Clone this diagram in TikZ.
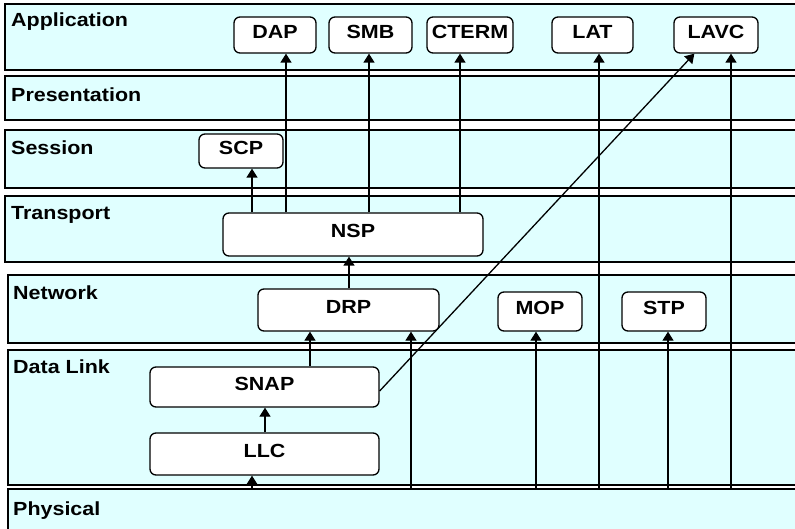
\documentclass[tikz,border=0pt]{standalone}
\usepackage{fontspec}
\newfontfamily\lblfont[FakeStretch=1.13]{Liberation Sans}
\usetikzlibrary{arrows.meta}
\definecolor{layerfill}{HTML}{E0FFFF}
\tikzset{
  layer/.style={fill=layerfill, draw=black, line width=2.2pt},
  layername/.style={anchor=base west, inner sep=0pt, font=\lblfont\bfseries\fontsize{19}{19}\selectfont},
  proto/.style={draw=black, fill=white, rounded corners=6pt, line width=1.3pt, inner sep=0pt,
    font=\lblfont\bfseries\fontsize{19}{19}\selectfont, text height=13.5pt, text depth=7pt},
  arr/.style={line width=1.3pt, -{Triangle[width=11pt,length=9pt]}},
}
\begin{document}
\begin{tikzpicture}[x=1pt,y=-1pt]
\useasboundingbox (0,0) rectangle (795,529);
\clip (0,0) rectangle (795,529);
% layers
\draw[layer] (5,4) rectangle (805,70);
\draw[layer] (5,76) rectangle (805,120);
\draw[layer] (5,130) rectangle (805,188);
\draw[layer] (5,196) rectangle (805,262);
\draw[layer] (8,275) rectangle (805,343);
\draw[layer] (8,350) rectangle (805,485);
\draw[layer] (8,489) rectangle (805,545);
\node[layername] (lapp) at (11,27) {Application};
\node[layername] (lpres) at (11,102) {Presentation};
\node[layername] (lsess) at (11,155) {Session};
\node[layername] (ltrans) at (11,220) {Transport};
\node[layername] (lnet) at (13,299) {Network};
\node[layername] (ldl) at (13,373) {Data Link};
\node[layername] (lphy) at (13,515) {Physical};
\coordinate (phy) at (400,489);
% protocol boxes
\node[proto, minimum width=82pt, minimum height=36pt] (DAP) at (275,35) {DAP};
\node[proto, minimum width=83pt, minimum height=36pt] (SMB) at (370.5,35) {SMB};
\node[proto, minimum width=86pt, minimum height=36pt] (CTERM) at (470,35) {CTERM};
\node[proto, minimum width=81pt, minimum height=36pt] (LAT) at (592.5,35) {LAT};
\node[proto, minimum width=84pt, minimum height=36pt] (LAVC) at (716,35) {LAVC};
\node[proto, minimum width=84pt, minimum height=34pt] (SCP) at (241,151) {SCP};
\node[proto, minimum width=260pt, minimum height=43pt] (NSP) at (353,234.5) {NSP};
\node[proto, minimum width=181pt, minimum height=42pt] (DRP) at (348.5,310) {DRP};
\node[proto, minimum width=84pt, minimum height=39pt] (MOP) at (540,311.5) {MOP};
\node[proto, minimum width=84pt, minimum height=39pt] (STP) at (664,311.5) {STP};
\node[proto, minimum width=229pt, minimum height=40pt] (SNAP) at (264.5,387) {SNAP};
\node[proto, minimum width=229pt, minimum height=42pt] (LLC) at (264.5,454) {LLC};
% connectors
\draw[arr] (NSP.north -| 252,0) -- (SCP.south -| 252,0);
\draw[arr] (NSP.north -| 286,0) -- (DAP.south -| 286,0);
\draw[arr] (NSP.north -| 369,0) -- (SMB.south -| 369,0);
\draw[arr] (NSP.north -| 460,0) -- (CTERM.south -| 460,0);
\draw[arr] (DRP.north -| 349,0) -- (NSP.south -| 349,0);
\draw[arr] (SNAP.north -| 310,0) -- (DRP.south -| 310,0);
\draw[arr] (phy -| 411,0) -- (DRP.south -| 411,0);
\draw[arr] (LLC.north -| 265,0) -- (SNAP.south -| 265,0);
\draw[arr] (phy -| 252,0) -- (LLC.south -| 252,0);
\draw[arr] (phy -| 536,0) -- (MOP.south -| 536,0);
\draw[arr] (phy -| 668,0) -- (STP.south -| 668,0);
\draw[arr] (phy -| 599,0) -- (LAT.south -| 599,0);
\draw[arr] (phy -| 731,0) -- (LAVC.south -| 731,0);
\draw[arr] ([yshift=-4pt]SNAP.east) -- ([xshift=21pt]LAVC.south west);
\end{tikzpicture}
\end{document}
